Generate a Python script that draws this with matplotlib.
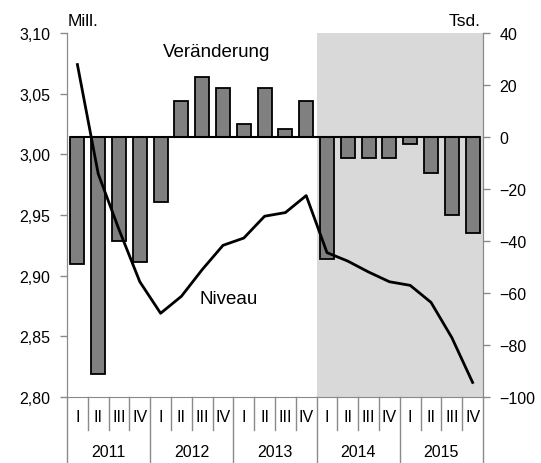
import matplotlib
matplotlib.use('Agg')
import matplotlib.pyplot as plt
import matplotlib.transforms as mtransforms
from matplotlib.ticker import FuncFormatter
import numpy as np

plt.rcParams['font.family'] = ['Liberation Sans', 'DejaVu Sans']
fs=11
plt.rcParams['font.size'] = fs

# ------------------------------------------------ data
years=['2011','2012','2013','2014','2015']
quarters=['I','II','III','IV']
# Veränderung, Tsd. (right axis)
change=[-49,-91,-40,-48, -25,14,23,19, 5,19,3,14, -47,-8,-8,-8, -2.5,-14,-30,-37]
# Niveau, Mill. (left axis)
level=[3.074,2.984,2.938,2.895, 2.869,2.883,2.905,2.925, 2.931,2.949,2.952,2.966,
       2.919,2.912,2.903,2.895, 2.892,2.878,2.849,2.812]
shade_from='2014'

gc='#8a8a8a'
n=len(change)
x=np.arange(n)

fig=plt.figure(figsize=(5.41,4.64),dpi=100)
ax=fig.add_axes([67/541,66/464,416/541,364/464])
ax2=ax.twinx()
ax.set_zorder(1)
ax2.set_zorder(2)

# ------------------------------------------------ bars on right scale
i0=years.index(shade_from)*4
ax.axvspan(i0-0.5,n-0.5,color='#d9d9d9',lw=0,zorder=0)
ax.bar(x,change,width=0.68,color='#808080',edgecolor='k',linewidth=1.3,zorder=2)
ax.hlines(0,-0.34,n-1+0.34,color='k',lw=1.5,zorder=3)
ax.set_xlim(-0.5,n-0.5)
ax.set_ylim(-100,40)
ax.set_yticks(np.arange(-100,41,20))
ax.set_xticks([])

# ------------------------------------------------ line on left scale
ax2.plot(x,level,color='k',lw=2,zorder=5)
ax2.set_ylim(2.80,3.10)
ax2.set_yticks(np.arange(2.80,3.101,0.05))
ax2.yaxis.set_major_formatter(FuncFormatter(lambda v,p: ('%.2f'%v).replace('.',',')))

ax.yaxis.set_ticks_position('right')
ax.tick_params(axis='y',left=False,labelleft=False,right=True,labelright=True)
ax2.tick_params(axis='y',left=True,labelleft=True,right=False,labelright=False)

for a in (ax,ax2):
    for s in a.spines.values():
        s.set_color(gc)
    a.spines['top'].set_visible(False)
    a.tick_params(axis='y',colors=gc,labelcolor='k',length=5,width=1,direction='out',
                  labelsize=fs+0.5,pad=7)
ax2.patch.set_visible(False)
ax2.spines['bottom'].set_visible(False)

# ------------------------------------------------ quarter / year boxes
trans=mtransforms.blended_transform_factory(ax.transData,ax.transAxes)
yq=-33/364
yb=-66/364
for k in range(n+1):
    y_end = yb if k%4==0 else yq
    ax.plot([k-0.5,k-0.5],[0,y_end],color=gc,lw=1,transform=trans,clip_on=False)
for i in range(n):
    ax.text(i,-20/364,quarters[i%4],transform=trans,ha='center',va='center',fontsize=fs+0.5)
for j,yr in enumerate(years):
    ax.text(j*4+1.5,-55/364,yr,transform=trans,ha='center',va='center',fontsize=fs+0.5)

# ------------------------------------------------ labels
fig.text(68/541,1-21/464,'Mill.',ha='left',va='center',fontsize=12.5)
fig.text(481/541,1-21/464,'Tsd.',ha='right',va='center',fontsize=12.5)
ax.text(6.69,33,'Veränderung',ha='center',va='center',fontsize=13.5,zorder=6)
ax2.text(7.29,2.8815,'Niveau',ha='center',va='center',fontsize=13.5,zorder=6)

plt.savefig('out.png',dpi=100)
